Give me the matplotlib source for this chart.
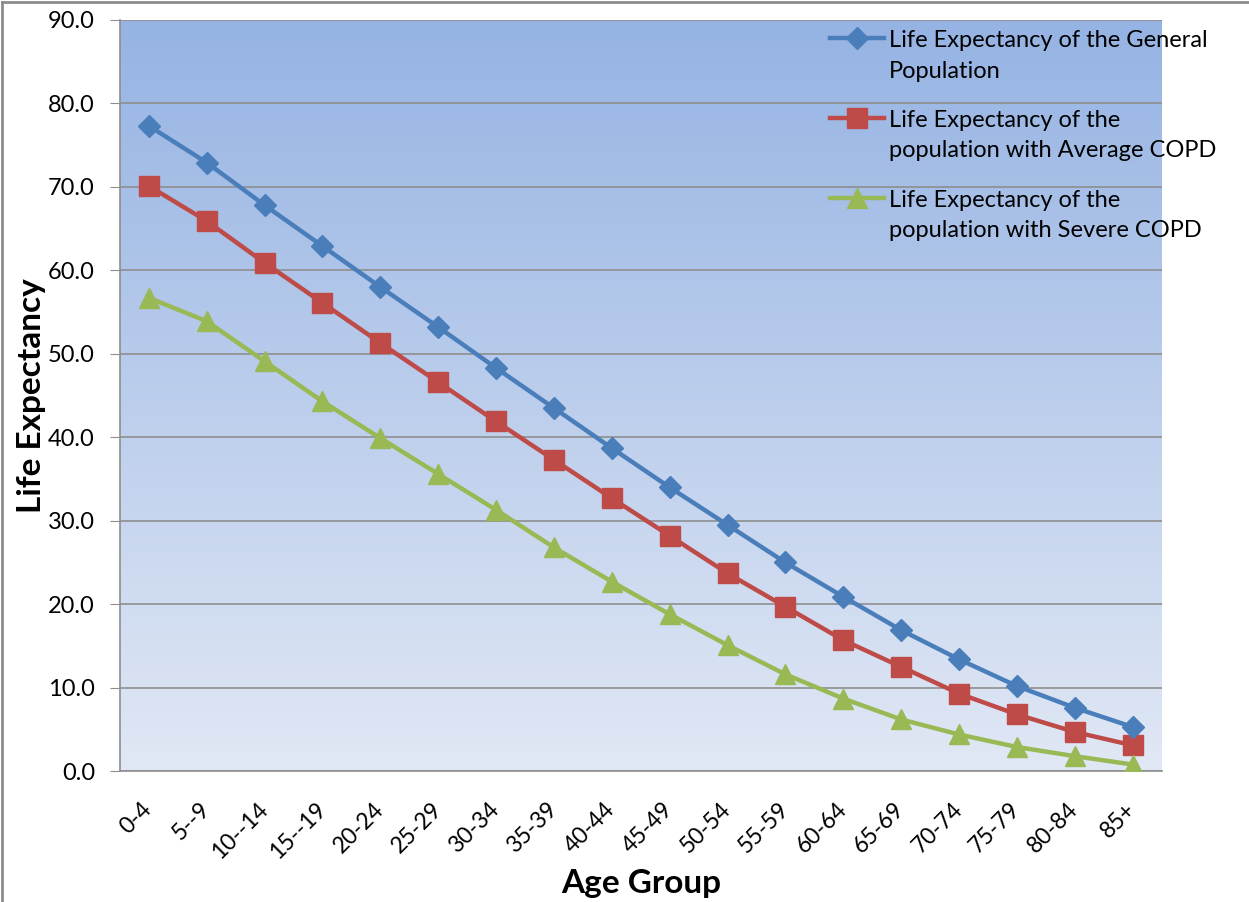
import numpy as np
import matplotlib
matplotlib.use('Agg')
import matplotlib.pyplot as plt
from matplotlib.colors import LinearSegmentedColormap
from matplotlib.lines import Line2D

plt.rcParams['font.family'] = ['Lato', 'DejaVu Sans']

# Data
age_groups = ['0-4', '5--9', '10--14', '15--19', '20-24', '25-29', '30-34', '35-39',
              '40-44', '45-49', '50-54', '55-59', '60-64', '65-69', '70-74', '75-79',
              '80-84', '85+']
general = [77.3, 72.9, 67.8, 62.9, 58.0, 53.2, 48.3, 43.5, 38.7, 34.0, 29.5, 25.0,
           20.9, 16.9, 13.4, 10.2, 7.6, 5.3]
average_copd = [70.1, 65.9, 60.9, 56.1, 51.3, 46.6, 41.9, 37.3, 32.7, 28.2, 23.7, 19.7,
                15.7, 12.5, 9.3, 6.8, 4.7, 3.1]
severe_copd = [56.7, 53.9, 49.1, 44.3, 39.9, 35.6, 31.3, 26.8, 22.7, 18.8, 15.1, 11.6,
               8.7, 6.2, 4.4, 2.9, 1.8, 0.8]
y_ticks = [0, 10, 20, 30, 40, 50, 60, 70, 80, 90]

labels = ['Life Expectancy of the General\nPopulation',
          'Life Expectancy of the\npopulation with Average COPD',
          'Life Expectancy of the\npopulation with Severe COPD']

fig = plt.figure(figsize=(12.49, 9.02), dpi=100)
ax = fig.add_axes([0.096, 0.145, 0.834, 0.833])

# gradient background
grad = np.linspace(0, 1, 256).reshape(-1, 1)
cmap = LinearSegmentedColormap.from_list('bg', ['#E1E8F5', '#95B3E3'])
ax.imshow(grad, aspect='auto', cmap=cmap, origin='lower',
          extent=[0, 1, 0, 1], transform=ax.transAxes, zorder=0)

x = np.arange(len(age_groups))
ax.plot(x, general, color='#4A7EBB', lw=3.2, marker='D', ms=11, label=labels[0], zorder=4)
ax.plot(x, average_copd, color='#BE4B48', lw=3.2, marker='s', ms=14, label=labels[1], zorder=3)
ax.plot(x, severe_copd, color='#98B954', lw=3.2, marker='^', ms=14, label=labels[2], zorder=3)

ax.set_xlim(-0.5, len(age_groups) - 0.5)
ax.set_ylim(0, 90)
ax.set_yticks(y_ticks)
ax.set_yticklabels([f'{v:.1f}' for v in y_ticks], fontsize=17)
ax.yaxis.grid(True, color='#8E8E8E', lw=1.2)
ax.set_axisbelow(False)
ax.set_xticks(x)
ax.set_xticklabels(age_groups, rotation=45, ha='right', va='center',
                   rotation_mode='anchor', fontsize=16.5)
ax.tick_params(axis='x', length=0, pad=25)
ax.tick_params(axis='y', length=7, color='#8E8E8E', pad=11)
for s in ['top', 'right']:
    ax.spines[s].set_visible(False)
for s in ['left', 'bottom']:
    ax.spines[s].set_color('#8E8E8E')
    ax.spines[s].set_linewidth(1.2)

ax.set_xlabel('Age Group', fontsize=24, fontweight='bold', va='center')
ax.xaxis.set_label_coords(0.5, -0.149)
ax.set_ylabel('Life Expectancy', fontsize=24, fontweight='bold', va='center')
ax.yaxis.set_label_coords(-0.085, 0.5)

leg = ax.legend(loc='upper left', bbox_to_anchor=(0.657, 0.977), bbox_transform=fig.transFigure,
                frameon=False, fontsize=17, handlelength=2.3, handletextpad=0.2,
                labelspacing=1.2, borderaxespad=0)
for t in leg.get_texts():
    t.set_linespacing(1.55)
# put the handle next to the first line of each label
for col in leg._legend_handle_box.get_children():
    for row in col.get_children():
        row.align = 'top'

# figure border (left and top only visible in reference)
fig.add_artist(Line2D([0.0016, 0.0016], [0, 0.998], transform=fig.transFigure,
                      color='#8C8C8C', lw=2))
fig.add_artist(Line2D([0.0016, 1], [0.998, 0.998], transform=fig.transFigure,
                      color='#8C8C8C', lw=2))

fig.savefig('out.png', dpi=100)
